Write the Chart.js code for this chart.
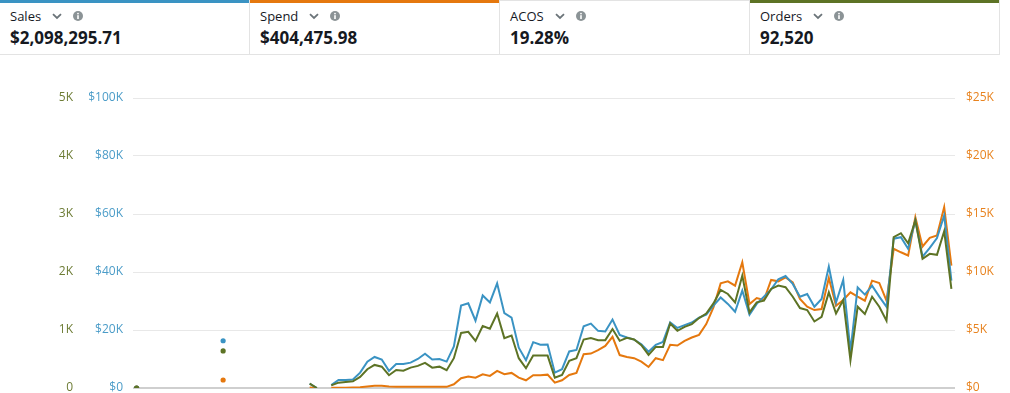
<!DOCTYPE html>
<html>
<head>
<meta charset="utf-8">
<script src="https://cdn.jsdelivr.net/npm/chart.js@4"></script>
<style>
  html, body { margin: 0; padding: 0; background: #fff; width: 1010px; height: 393px; overflow: hidden; font-family: 'Open Sans', 'Noto Sans', sans-serif; }
  .tiles { position: absolute; top: 0; left: 0; width: 1000px; height: 55px; }
  .tile { position: absolute; top: 0; width: 249px; height: 54px; border-bottom: 1px solid #e3e3e3; border-right: 1px solid #e3e3e3; box-sizing: content-box; }
  .tile .bar { position: absolute; left: 0; right: 0; top: 0; height: 3px; }
  .tile .head { position: absolute; left: 10px; top: 6px; height: 20px; display: flex; align-items: center; font-size: 13px; color: #16191f; }
  .tile .head svg { display: block; }
  .tile .val { position: absolute; left: 10px; top: 26px; font-size: 17px; font-weight: 700; color: #16191f; letter-spacing: 0px; }
  #wrap { position: absolute; left: 0; top: 60px; width: 1010px; height: 345px; }
  #c { display: block; width: 1010px; height: 345px; }
</style>
</head>
<body>
<div class="tiles" id="tiles"></div>
<div id="wrap"><canvas id="c" width="1010" height="345"></canvas></div>
<script>
// ---- header metrics ----
const metricNames = ['Sales', 'Spend', 'ACOS', 'Orders'];
const metricValues = ['$2,098,295.71', '$404,475.98', '19.28%', '92,520'];
const metricBars = ['#3a93c3', '#e5780e', '#e3e3e3', '#5d7325'];

// ---- chart data (daily points; null = no data) ----
const days = Array.from({length: 114}, (_, i) => 'Day ' + (i + 1));
const sales = [0,null,null,null,null,null,null,null,null,null,null,null,16300,null,null,null,null,null,null,null,null,null,null,null,1500,0,null,
  1000,2800,2800,2900,5300,9100,10700,9800,5900,8300,8300,8750,10000,11800,9800,10000,9100,14300,28400,29200,23200,31900,29500,36100,25800,24300,13900,9600,15800,14900,15000,
  5300,6500,12600,13100,21300,22200,19700,19500,23600,18300,17400,16700,15100,12500,14900,15900,22600,20700,21700,22600,24300,25300,28400,31200,29000,26300,33600,25300,29000,31500,34000,37500,
  38600,35900,31500,32400,28000,30700,41900,29500,37300,12800,34700,32200,35300,31500,28000,51500,52000,48000,57800,45300,48300,51700,59500,37000];
const orders = [0,null,null,null,null,null,null,null,null,null,null,null,640,null,null,null,null,null,null,null,null,null,null,null,75,0,null,
  45,92,104,116,190,324,398,368,220,311,299,351,381,433,351,368,306,514,950,969,813,1067,1021,1285,860,905,514,341,559,559,559,
  178,225,467,514,836,860,825,825,1016,813,865,836,739,571,709,709,1112,986,1055,1102,1206,1285,1458,1690,1621,1476,1938,1303,1476,1505,1708,1765,
  1738,1574,1379,1344,1147,1228,1649,1285,1517,479,1401,1275,1574,1401,1159,2600,2669,2496,2889,2227,2313,2296,2704,1708];
const spend = [0,null,null,null,null,null,null,null,null,null,null,null,690,null,null,null,null,null,null,null,null,null,null,null,40,0,null,
  20,30,30,45,70,130,200,200,130,110,110,110,110,110,110,110,100,320,840,980,890,1185,1040,1470,1185,1300,890,666,1100,1100,1150,
  460,666,1125,1300,2915,2970,3260,3630,4410,2840,2680,2570,2275,1815,2570,2400,3720,3660,4065,4350,4585,5510,6945,9020,9195,8825,10840,7240,7760,7585,9315,9195,
  9530,9110,7670,7005,6720,6805,9490,7095,7585,8245,7870,7525,9255,9055,7525,12000,11700,11420,14730,12200,12950,13150,15600,10550];

// ---- axis ticks ----
const salesTicks = ['$0', '$20K', '$40K', '$60K', '$80K', '$100K'];
const ordersTicks = ['0', '1K', '2K', '3K', '4K', '5K'];
const spendTicks = ['$0', '$5K', '$10K', '$15K', '$20K', '$25K'];

const colSales = '#3a93c3', colSpend = '#e5780e', colOrders = '#5d7325';
const tickSales = '#4b9cc8', tickSpend = '#e8831f', tickOrders = '#6d7c35';

// header build
const chevron = '<svg width="10" height="7" viewBox="0 0 10 7"><path d="M1 1.2 L5 5 L9 1.2" fill="none" stroke="#6b7479" stroke-width="1.8"/></svg>';
const info = '<svg width="10" height="10" viewBox="0 0 10 10"><circle cx="5" cy="5" r="5" fill="#8b9396"/><rect x="4.2" y="4.2" width="1.6" height="3.8" fill="#fff"/><circle cx="5" cy="2.6" r="0.9" fill="#fff"/></svg>';
const tilesEl = document.getElementById('tiles');
metricNames.forEach((n, k) => {
  const t = document.createElement('div');
  t.className = 'tile';
  t.style.left = (k * 250) + 'px';
  const barH = metricBars[k] === '#e3e3e3' ? 1 : 3;
  t.innerHTML = '<div class="bar" style="background:' + metricBars[k] + ';height:' + barH + 'px"></div>' +
    '<div class="head"><span>' + n + '</span><span style="width:11px"></span>' + chevron + '<span style="width:11px"></span>' + info + '</div>' +
    '<div class="val">' + metricValues[k] + '</div>';
  tilesEl.appendChild(t);
});

function isolatedRadius(ctx) {
  const d = ctx.dataset.data, i = ctx.dataIndex;
  if (d[i] === null) return 0;
  const prevNull = i === 0 || d[i - 1] === null;
  const nextNull = i === d.length - 1 || d[i + 1] === null;
  return (prevNull && nextNull) ? 2.6 : 0;
}

const tickFont = { family: "'Open Sans', 'Noto Sans', sans-serif", size: 12, lineHeight: 1 };

new Chart(document.getElementById('c'), {
  type: 'line',
  data: {
    labels: days,
    datasets: [
      { label: 'Orders', data: orders, yAxisID: 'yOrders', borderColor: colOrders, backgroundColor: colOrders },
      { label: 'Sales', data: sales, yAxisID: 'ySales', borderColor: colSales, backgroundColor: colSales },
      { label: 'Spend', data: spend, yAxisID: 'ySpend', borderColor: colSpend, backgroundColor: colSpend }
    ].map(ds => Object.assign(ds, {
      borderWidth: 2, tension: 0, spanGaps: false, fill: false,
      pointRadius: isolatedRadius, pointBorderWidth: 0, pointHoverRadius: 0,
      pointBackgroundColor: ds.borderColor
    }))
  },
  options: {
    responsive: false,
    maintainAspectRatio: false,
    animation: false,
    devicePixelRatio: 1,
    layout: { padding: { top: 38, bottom: 17, left: 0, right: 0 } },
    plugins: { legend: { display: false }, tooltip: { enabled: false } },
    scales: {
      x: { type: 'category', offset: true, display: false },
      ySales: {
        position: 'left', weight: 0, min: 0, max: 100000,
        afterFit: s => { s.width = 53; },
        border: { display: false },
        grid: {
          drawTicks: false,
          color: c => c.tick && c.tick.value === 0 ? '#cfcfcf' : '#e8e8e8',
          lineWidth: c => c.tick && c.tick.value === 0 ? 2 : 1
        },
        ticks: { stepSize: 20000, padding: 10, color: tickSales, font: tickFont,
          callback: (v) => salesTicks[Math.round(v / 20000)] }
      },
      yOrders: {
        position: 'left', weight: 1, min: 0, max: 5000,
        afterFit: s => { s.width = 80; },
        border: { display: false },
        grid: { display: false, drawTicks: false },
        ticks: { stepSize: 1000, padding: 7, color: tickOrders, font: tickFont,
          callback: (v) => ordersTicks[Math.round(v / 1000)] }
      },
      ySpend: {
        position: 'right', min: 0, max: 25000,
        afterFit: s => { s.width = 55; },
        border: { display: false },
        grid: { display: false, drawTicks: false },
        ticks: { stepSize: 5000, padding: 11, color: tickSpend, font: tickFont,
          callback: (v) => spendTicks[Math.round(v / 5000)] }
      }
    }
  }
});
</script>
</body>
</html>
